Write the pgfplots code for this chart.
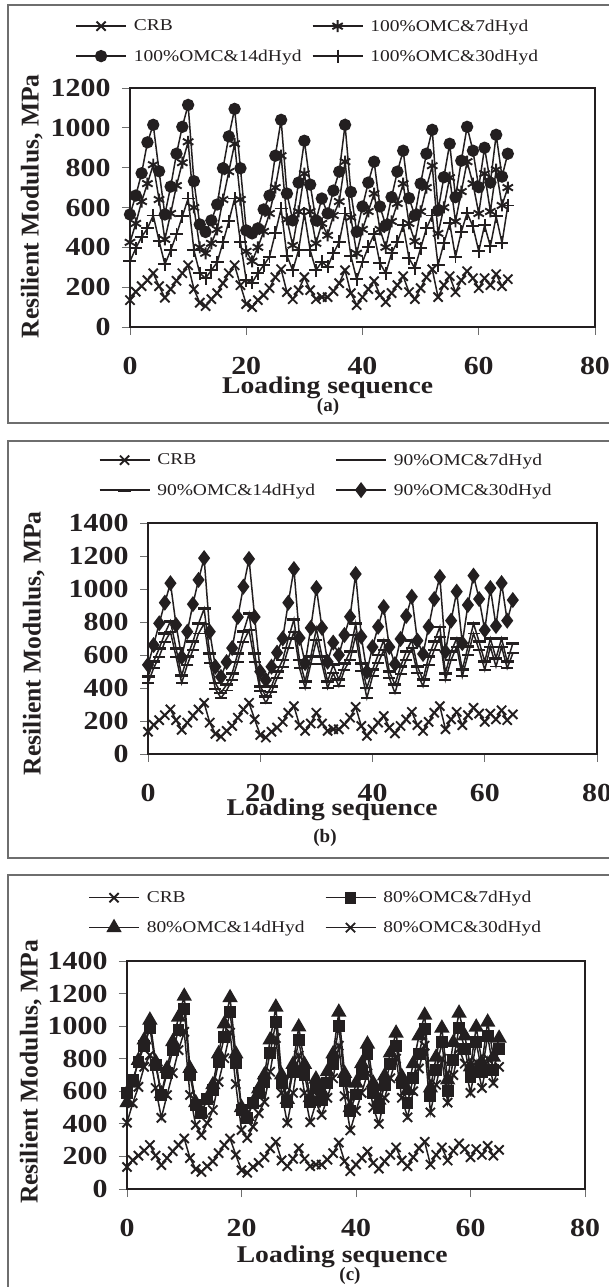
\documentclass[border=0pt]{standalone}
\usepackage{fontspec}
\setmainfont{Liberation Serif}
\newfontfamily\legfont[FakeStretch=1.18]{Liberation Serif}
\newfontfamily\wbold[FakeStretch=1.15]{Liberation Serif}
\usepackage{pgfplots}
\usepackage{pgfplotstable}
\pgfplotsset{compat=1.18}
\definecolor{ink}{HTML}{231F20}
\definecolor{framec}{HTML}{6E6E6E}
\pgfplotstableread{
x crb a b c
0 135 425 565 330
1 177 520 660 395
2 205 630 772 452
3 235 720 927 495
4 270 815 1015 560
5 205 640 782 432
6 147 440 565 315
7 190 570 705 385
8 232 710 870 465
9 270 825 1005 555
10 310 930 1115 645
11 190 600 732 385
12 122 400 515 270
13 105 370 477 245
14 140 420 535 285
15 170 490 615 325
16 220 640 797 425
17 270 780 957 530
18 310 920 1095 645
19 210 640 797 427
20 115 380 485 235
21 100 330 470 222
22 135 400 495 270
23 160 480 590 310
24 195 570 660 352
25 250 700 860 472
26 290 860 1040 595
27 175 540 670 357
28 140 410 535 285
29 185 580 725 385
30 250 770 935 570
31 185 580 715 385
32 140 420 535 285
33 150 520 645 327
34 150 460 570 302
35 180 560 685 370
36 220 630 780 427
37 285 830 1015 570
38 170 550 678 357
39 110 370 478 240
40 150 490 605 327
41 190 580 725 402
42 230 670 830 465
43 160 490 605 320
44 125 400 510 270
45 170 530 652 370
46 210 620 780 427
47 255 720 885 510
48 175 520 647 345
49 140 430 560 295
50 195 580 720 395
51 250 700 870 495
52 290 810 990 560
53 150 470 585 310
54 210 600 752 420
55 255 750 920 520
56 175 530 652 352
57 235 680 835 478
58 280 830 1005 572
59 245 720 885 505
60 195 570 702 380
61 245 770 900 510
62 210 580 725 405
63 265 790 965 555
64 205 610 755 422
65 240 700 870 610
}\dataA
\pgfplotstableread{
x crb a b c
0 135 430 470 540
1 177 520 560 660
2 205 590 640 792
3 235 680 730 917
4 270 740 805 1035
5 205 590 640 782
6 147 430 475 587
7 190 540 590 741
8 232 630 680 908
9 270 730 790 1055
10 310 790 880 1187
11 190 550 610 741
12 122 395 430 529
13 105 340 370 467
14 140 385 420 557
15 170 450 490 642
16 220 560 610 830
17 270 680 740 1014
18 310 750 850 1182
19 210 560 610 830
20 115 380 410 499
21 100 310 350 448
22 135 375 410 529
23 160 460 500 614
24 195 525 570 700
25 250 640 700 917
26 290 740 815 1121
27 175 520 570 703
28 140 400 440 551
29 185 545 590 764
30 250 690 760 1006
31 185 545 590 764
32 140 400 440 559
33 150 490 540 675
34 150 410 450 600
35 180 510 550 721
36 220 570 620 832
37 285 720 790 1091
38 170 505 550 711
39 110 340 400 499
40 150 470 510 648
41 190 550 600 771
42 230 630 690 891
43 160 460 500 648
44 125 370 420 545
45 170 485 530 697
46 210 570 620 836
47 255 640 690 953
48 175 490 530 687
49 140 410 450 606
50 195 540 590 771
51 250 630 680 939
52 290 710 770 1073
53 150 450 490 620
54 210 570 620 808
55 255 650 700 984
56 175 470 510 672
57 235 600 650 903
58 280 730 790 1081
59 245 630 680 939
60 195 510 560 751
61 245 650 700 1006
62 210 530 580 776
63 265 650 700 1036
64 205 520 560 808
65 240 610 670 933
}\dataB
\pgfplotstableread{
x crb a b c
0 135 591 530 407
1 177 669 650 527
2 205 781 790 627
3 235 877 915 750
4 270 987 1037 822
5 205 761 780 620
6 147 577 585 437
7 190 712 740 577
8 232 853 905 712
9 270 975 1055 853
10 310 1104 1184 965
11 190 700 740 577
12 122 515 530 393
13 105 468 465 331
14 140 552 555 405
15 170 607 640 485
16 220 781 830 658
17 270 934 1014 803
18 310 1086 1175 960
19 210 772 830 644
20 115 485 500 362
21 100 436 445 313
22 135 527 530 382
23 160 587 615 465
24 195 658 700 535
25 250 836 915 720
26 290 1024 1117 926
27 175 650 700 590
28 140 535 550 405
29 185 720 765 590
30 250 914 995 820
31 185 700 765 590
32 140 535 560 410
33 150 620 675 530
34 150 545 600 455
35 180 650 720 560
36 220 770 830 680
37 285 1000 1086 880
38 170 660 710 570
39 110 480 500 360
40 150 580 650 480
41 190 705 770 590
42 230 830 890 710
43 160 590 650 500
44 125 500 545 400
45 170 640 695 560
46 210 770 835 680
47 255 880 957 800
48 175 650 690 560
49 140 530 605 440
50 195 680 770 600
51 250 830 940 740
52 290 980 1067 880
53 150 570 620 470
54 210 730 810 640
55 255 900 988 800
56 175 600 670 530
57 235 790 900 700
58 280 990 1080 860
59 245 860 940 770
60 195 690 750 590
61 245 900 994 780
62 210 720 775 620
63 265 940 1025 800
64 205 730 810 650
65 240 860 926 750
}\dataC
\pgfplotsset{
  panel/.style={
    scale only axis, anchor=south west, clip=false,
    xmin=0, xmax=80, ymin=0, xtick={0,20,...,80},
    axis line style={ink,line width=1.5pt},
    major tick length=8pt, tick align=outside,
    tick style={framec,line width=0.9pt},
    xtick pos=bottom, ytick pos=left,
    /pgf/number format/assume math mode=true,
    /pgf/number format/1000 sep={},
    tick label style={font=\fontsize{26}{26}\wbold\bfseries\selectfont,text=ink},
    yticklabel style={xshift=-8pt},
    xticklabel style={yshift=-19pt},
    ylabel={Resilient Modulus, MPa},
    xlabel={Loading sequence},
    ylabel style={font=\fontsize{25.6}{26}\bfseries\selectfont,text=ink},
    xlabel style={font=\fontsize{24}{24}\wbold\bfseries\selectfont,text=ink},
    legend style={draw=none,fill=none,legend columns=2,inner sep=0pt,
      font=\fontsize{16.5}{18}\legfont\selectfont,text=ink,
      cells={anchor=west},
      row sep=13pt},
    legend image code/.code={\draw[mark repeat=2,mark phase=2,##1] plot coordinates {(0pt,0pt) (25pt,0pt) (50pt,0pt)};},
  },
  ser/.style={ink,line width=1.5pt,mark options={solid,fill=ink,draw=ink,line width=1.9pt}},
  mX/.style={ser,mark=x,mark size=6.5pt},
}
\newcommand{\lab}[1]{\makebox[181pt][l]{\hspace{5pt}#1}}
\newcommand{\labb}[1]{\hspace{5pt}#1}
\begin{document}
\begin{tikzpicture}[x=1pt,y=1pt]
\path[use as bounding box] (0,0) rectangle (609,1287);
\fill[white] (0,0) rectangle (609,1287);
% frames
\draw[framec,line width=1.1pt] (700,1282) -- (8,1282) -- (8,864) -- (700,864);
\draw[framec,line width=1.1pt] (700,846) -- (8,846) -- (8,429) -- (700,429);
\draw[framec,line width=1.1pt] (700,412) -- (8,412) -- (8,-10);
% panel (a)
\begin{axis}[panel, at={(130pt,960pt)}, width=465pt, height=239pt, ymax=1200, ytick={0,200,...,1200},
  xlabel style={at={(axis description cs:0.425,0)},anchor=north,yshift=-46pt},
  ylabel style={at={(axis description cs:0,0.505)},anchor=south,yshift=84pt},
  legend style={at={(axis description cs:-0.118,1.196)},anchor=west}]
\addplot[mX] table[x=x,y=crb] {\dataA}; \addlegendentry{\lab{CRB}}
\addplot[ser,mark=asterisk,mark size=6pt] table[x=x,y=a] {\dataA}; \addlegendentry{\labb{100\%OMC\&7dHyd}}
\addplot[ser,mark=*,mark size=5.2pt] table[x=x,y=b] {\dataA}; \addlegendentry{\lab{100\%OMC\&14dHyd}}
\addplot[ser,mark=+,mark size=6.5pt] table[x=x,y=c] {\dataA}; \addlegendentry{\labb{100\%OMC\&30dHyd}}
\end{axis}
\node[text=ink,font=\fontsize{19}{19}\bfseries\selectfont] at (328,880) {(a)};
% panel (b)
\begin{axis}[panel, at={(148pt,533pt)}, width=449pt, height=231pt, ymax=1400, ytick={0,200,...,1400},
  xlabel style={at={(axis description cs:0.41,0)},anchor=north,yshift=-41pt},
  ylabel style={at={(axis description cs:0,0.48)},anchor=south,yshift=100pt},
  legend style={at={(axis description cs:-0.11,1.207)},anchor=west}]
\addplot[mX] table[x=x,y=crb] {\dataB}; \addlegendentry{\lab{CRB}}
\addplot[ser,mark=-,mark size=6pt] table[x=x,y=a] {\dataB}; \addlegendentry{\labb{90\%OMC\&7dHyd}}
\addplot[ser,mark=-,mark size=6.5pt,mark options={line width=2.8pt,draw=ink}] table[x=x,y=b] {\dataB}; \addlegendentry{\lab{90\%OMC\&14dHyd}}
\addplot[ser,mark=diamond*,mark size=6.5pt] table[x=x,y=c] {\dataB}; \addlegendentry{\labb{90\%OMC\&30dHyd}}
\end{axis}
\node[text=ink,font=\fontsize{19}{19}\bfseries\selectfont] at (325,449) {(b)};
% panel (c)
\begin{axis}[panel, at={(127pt,98pt)}, width=458pt, height=228pt, ymax=1400, ytick={0,200,...,1400},
  xlabel style={at={(axis description cs:0.47,0)},anchor=north,yshift=-53pt},
  ylabel style={at={(axis description cs:0,0.513)},anchor=south,yshift=82pt},
  legend style={at={(axis description cs:-0.085,1.212)},anchor=west}]
\addplot[mX] table[x=x,y=crb] {\dataC}; \addlegendentry{\lab{CRB}}
\addplot[ser,mark=square*,mark size=5pt] table[x=x,y=a] {\dataC}; \addlegendentry{\labb{80\%OMC\&7dHyd}}
\addplot[ser,mark=triangle*,mark size=7pt] table[x=x,y=b] {\dataC}; \addlegendentry{\lab{80\%OMC\&14dHyd}}
\addplot[mX] table[x=x,y=c] {\dataC}; \addlegendentry{\labb{80\%OMC\&30dHyd}}
\end{axis}
\node[text=ink,font=\fontsize{19}{19}\bfseries\selectfont] at (350,11) {(c)};
\end{tikzpicture}
\end{document}
